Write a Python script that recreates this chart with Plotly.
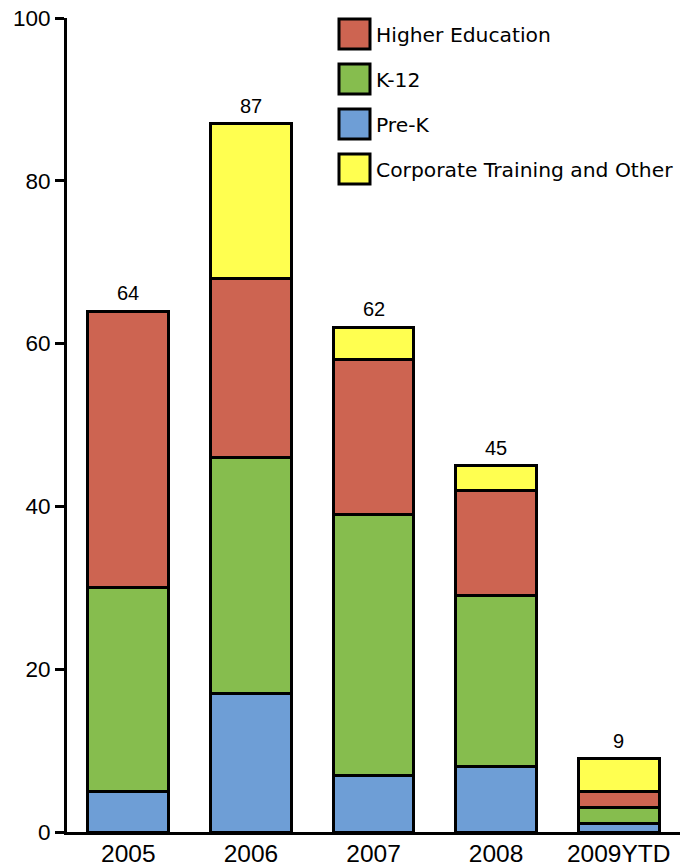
import plotly.graph_objects as go

years = ["2005", "2006", "2007", "2008", "2009YTD"]
pre_k = [5, 17, 7, 8, 1]
k_12 = [25, 29, 32, 21, 2]
higher_ed = [34, 22, 19, 13, 2]
corporate = [0, 19, 4, 3, 4]
totals = [64, 87, 62, 45, 9]

series_names = ["Pre-K", "K-12", "Higher Education", "Corporate Training and Other"]
series_values = [pre_k, k_12, higher_ed, corporate]
series_colors = ["#6E9ED6", "#86BD4E", "#CD6451", "#FFFF50"]

legend_order = ["Higher Education", "K-12", "Pre-K", "Corporate Training and Other"]

W, H = 680, 866
ML, MR, MT, MB = 67, 0, 18, 34
PW, PH = W - ML - MR, H - MT - MB

fig = go.Figure()
for name, vals, col in zip(series_names, series_values, series_colors):
    fig.add_trace(go.Bar(
        x=years, y=vals, name=name,
        marker=dict(color=col, line=dict(color="black", width=3)),
        width=0.66, showlegend=False,
    ))

# totals above each stack; category positions given by index
for i, tot in enumerate(totals):
    fig.add_annotation(x=i, y=tot, text=str(tot), showarrow=False,
                       yanchor="bottom", yshift=5,
                       font=dict(family="Liberation Sans, Arial", size=20, color="black"))

# legend drawn as large swatches with labels
def px_x(px):
    return (px - ML) / PW

def px_y(py):
    return (H - MB - py) / PH

for i, name in enumerate(legend_order):
    col = series_colors[series_names.index(name)]
    top = 19 + i * 45
    fig.add_shape(type="rect", xref="paper", yref="paper",
                  x0=px_x(339), x1=px_x(370), y0=px_y(top + 30), y1=px_y(top),
                  fillcolor=col, line=dict(color="black", width=3))
    fig.add_annotation(xref="paper", yref="paper", x=px_x(374), y=px_y(top + 16),
                       text=name, showarrow=False, xanchor="left", yanchor="middle",
                       font=dict(family="DejaVu Sans, Verdana", size=20.3, color="black"))

fig.update_layout(
    width=W, height=H,
    margin=dict(l=ML, r=MR, t=MT, b=MB),
    barmode="stack",
    plot_bgcolor="white", paper_bgcolor="white",
    font=dict(family="Liberation Sans, Arial", color="black"),
    xaxis=dict(type="category", range=[-0.5, 4.5], showline=True, linecolor="black",
               linewidth=3, ticks="", tickfont=dict(size=24.5), ticklabelstandoff=-2,
               showgrid=False, zeroline=False),
    yaxis=dict(range=[0, 100], tickvals=[0, 20, 40, 60, 80, 100],
               showline=True, linecolor="black", linewidth=3,
               ticks="outside", ticklen=9, tickwidth=3, tickcolor="black",
               tickfont=dict(size=22.5), showgrid=False, zeroline=False),
)

fig.write_html("out.html")
